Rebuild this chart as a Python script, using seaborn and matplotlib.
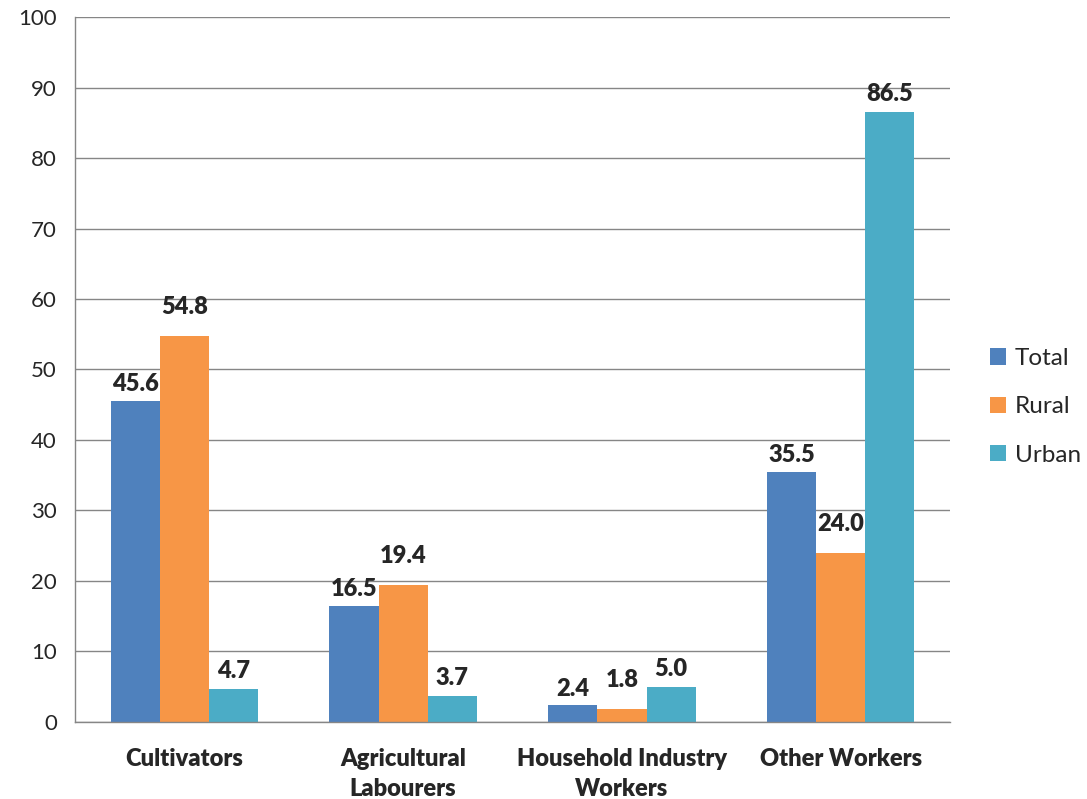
import pandas as pd
import numpy as np
import matplotlib.pyplot as plt
import seaborn as sns

# Data
categories = ['Cultivators', 'Agricultural\nLabourers', 'Household Industry\nWorkers', 'Other Workers']
series = ['Total', 'Rural', 'Urban']
total = [45.6, 16.5, 2.4, 35.5]
rural = [54.8, 19.4, 1.8, 24.0]
urban = [4.7, 3.7, 5.0, 86.5]
colors = ['#4F81BD', '#F79646', '#4BACC6']

df = pd.DataFrame({
    'category': categories * 3,
    'series': ['Total'] * 4 + ['Rural'] * 4 + ['Urban'] * 4,
    'value': total + rural + urban,
})

sns.set_style('white')
plt.rcParams['font.family'] = ['Lato', 'DejaVu Sans']

fig = plt.figure(figsize=(10.87, 7.99), dpi=100)
ax = fig.add_axes([0.069, 0.0964, 0.805, 0.8823])

sns.barplot(data=df, x='category', y='value', hue='series', order=categories,
            hue_order=series, palette=colors, width=0.675, gap=0, saturation=1,
            linewidth=0, ax=ax)

ax.set_ylim(0, 100)
ax.set_xlim(-0.5, 3.5)
ax.set_yticks(np.arange(0, 101, 10))
ax.yaxis.grid(True, color='#868686', linewidth=1)
ax.set_axisbelow(True)
for s in ['top', 'right']:
    ax.spines[s].set_visible(False)
for s in ['left', 'bottom']:
    ax.spines[s].set_color('#868686')
    ax.spines[s].set_linewidth(1)

ax.tick_params(axis='y', length=7, width=1, color='#868686', labelsize=16, pad=6)
ax.tick_params(axis='x', which='major', length=0, pad=19)
ax.set_xticks(np.arange(-0.5, 3.6, 1), minor=True)
ax.tick_params(axis='x', which='minor', length=7, width=1, color='#868686')
ax.set_xticklabels(categories, fontsize=17, fontweight='heavy', linespacing=1.45)
ax.set_xlabel('')
ax.set_ylabel('')

# Data labels
pads = [4, 13, 5]
for cont, p in zip(ax.containers, pads):
    ax.bar_label(cont, fmt='%.1f', padding=p, fontsize=17, fontweight='heavy', clip_on=False)

handles, labels = ax.get_legend_handles_labels()
ax.legend(handles, labels, loc='center left', bbox_to_anchor=(1.021, 0.447),
          frameon=False, fontsize=17.5, handlelength=0.65, handleheight=0.65,
          handletextpad=0.35, labelspacing=1.12)

plt.savefig('out.png', dpi=100)
